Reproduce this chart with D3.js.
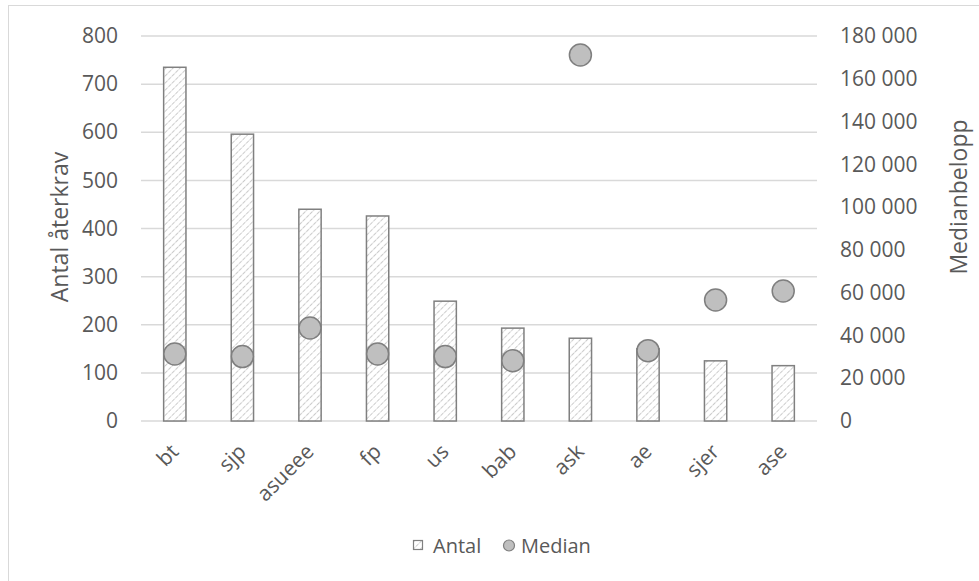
<!DOCTYPE html>
<html><head><meta charset="utf-8">
<script src="https://cdn.jsdelivr.net/npm/d3@7"></script>
<style>
html,body{margin:0;padding:0;background:#fff;}
text{font-family:"Open Sans",sans-serif;fill:#595959;}
</style></head>
<body><svg id="c" width="979" height="581"></svg>
<script>
const categories = ["bt","sjp","asueee","fp","us","bab","ask","ae","sjer","ase"];
const antal = [735, 596, 440, 426, 249, 193, 172, 150, 125, 115];
const median = [31300, 30100, 43500, 31300, 30100, 28200, 171100, 32900, 56600, 60800];
const leftTicks = [0,100,200,300,400,500,600,700,800];
const rightTicks = [0,20000,40000,60000,80000,100000,120000,140000,160000,180000];
const seriesNames = ["Antal","Median"];
const axisTitles = ["Antal återkrav","Medianbelopp"];

const svg = d3.select("#c");
const W = 979, H = 581;
const plot = {l:141, r:817, t:36, b:421};

svg.append("rect").attr("x",8.5).attr("y",5.5).attr("width",W+20).attr("height",H+20)
  .attr("fill","#fff").attr("stroke","#d9d9d9").attr("stroke-width",1);

const defs = svg.append("defs");
const pat = defs.append("pattern").attr("id","hatch").attr("patternUnits","userSpaceOnUse")
  .attr("width",5).attr("height",5).attr("patternTransform","rotate(45)");
pat.append("rect").attr("width",5).attr("height",5).attr("fill","#fff");
pat.append("line").attr("x1",0).attr("y1",0).attr("x2",0).attr("y2",5)
  .attr("stroke","#a8a8a8").attr("stroke-width",1.2).attr("stroke-dasharray","2.5,1");

const x = d3.scaleBand().domain(categories).range([plot.l, plot.r]).paddingInner(0.67).paddingOuter(0.335);
const yL = d3.scaleLinear().domain([0,800]).range([plot.b, plot.t]);
const yR = d3.scaleLinear().domain([0,180000]).range([plot.b, plot.t]);

// gridlines
svg.append("g").selectAll("line").data(leftTicks).join("line")
  .attr("x1",plot.l).attr("x2",plot.r)
  .attr("y1",d=>yL(d)).attr("y2",d=>yL(d))
  .attr("stroke","#d9d9d9").attr("stroke-width",1.5);

const fmtR = v => d3.format(",")(v).replace(/,/g," ");
const gL = svg.append("g").attr("transform",`translate(${plot.l},0)`)
  .call(d3.axisLeft(yL).tickValues(leftTicks).tickSize(0).tickPadding(23));
gL.select(".domain").remove();
gL.selectAll("text").style("font-size","21px").style("font-family","'Open Sans',sans-serif").attr("fill","#595959");

const gR = svg.append("g").attr("transform",`translate(${plot.r},0)`)
  .call(d3.axisRight(yR).tickValues(rightTicks).tickSize(0).tickPadding(23).tickFormat(fmtR));
gR.select(".domain").remove();
gR.selectAll("text").style("font-size","21px").style("font-family","'Open Sans',sans-serif").attr("fill","#595959");

// bars
svg.append("g").selectAll("rect").data(categories).join("rect")
  .attr("x",d=>x(d)).attr("width",x.bandwidth())
  .attr("y",(d,i)=>yL(antal[i])).attr("height",(d,i)=>yL(0)-yL(antal[i]))
  .attr("fill","url(#hatch)").attr("stroke","#808080").attr("stroke-width",1.5);

// circles
svg.append("g").selectAll("circle").data(categories).join("circle")
  .attr("cx",d=>x(d)+x.bandwidth()/2).attr("cy",(d,i)=>yR(median[i]))
  .attr("r",11).attr("fill","#bfbfbf").attr("stroke","#7f7f7f").attr("stroke-width",1.5);

// x labels
svg.append("g").selectAll("text").data(categories).join("text")
  .attr("transform",d=>`translate(${x(d)+x.bandwidth()/2+5},${plot.b+32}) rotate(-45)`)
  .attr("text-anchor","end")
  .style("font-size","21px").text(d=>d);

// axis titles
svg.append("text").attr("transform","translate(68,227) rotate(-90)")
  .attr("text-anchor","middle").style("font-size","23px").text(axisTitles[0]);
svg.append("text").attr("transform","translate(967,197) rotate(-90)")
  .attr("text-anchor","middle").style("font-size","23px").text(axisTitles[1]);

// legend
const lg = svg.append("g");
lg.append("rect").attr("x",413.5).attr("y",540.5).attr("width",9).attr("height",9)
  .attr("fill","url(#hatch)").attr("stroke","#808080").attr("stroke-width",1.2);
lg.append("text").attr("x",433).attr("y",553).style("font-size","20px").text(seriesNames[0]);
lg.append("circle").attr("cx",509).attr("cy",545.5).attr("r",5.5)
  .attr("fill","#bfbfbf").attr("stroke","#7f7f7f").attr("stroke-width",1.2);
lg.append("text").attr("x",521).attr("y",553).style("font-size","20px").text(seriesNames[1]);
</script></body></html>
